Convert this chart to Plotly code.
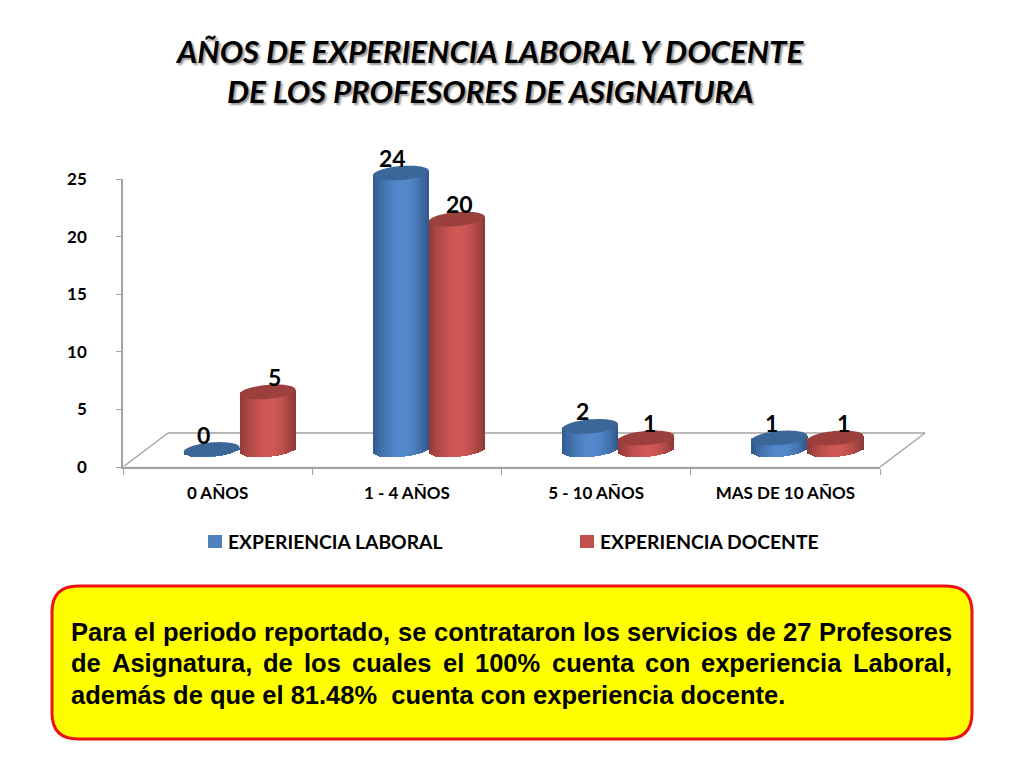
import numpy as np
import plotly.graph_objects as go

W, H = 1024, 768

# datos
categories = ["0 AÑOS", "1 - 4 AÑOS", "5 - 10 AÑOS", "MAS DE 10 AÑOS"]
laboral = [0, 24, 2, 1]
docente = [5, 20, 1, 1]
tick_values = [0, 5, 10, 15, 20, 25]

title_lines = ["AÑOS DE EXPERIENCIA LABORAL Y DOCENTE", "DE LOS PROFESORES DE ASIGNATURA"]
note_line1 = ["Para", "el", "periodo", "reportado,", "se", "contrataron", "los", "servicios", "de", "27", "Profesores"]
note_line2 = ["de", "Asignatura,", "de", "los", "cuales", "el", "100%", "cuenta", "con", "experiencia", "Laboral,"]
note_line3 = "además de que el 81.48%&nbsp;&nbsp;cuenta con experiencia docente."

# posicion de cada palabra (texto justificado)
line1_x = [72, 134.9, 163.8, 264.9, 398.6, 434.6, 583.9, 628.3, 746.5, 783.9, 819.9]
line2_x = [72, 113, 264.4, 305.3, 353.3, 443.9, 476.3, 552.7, 646, 702.4, 853.9]

GREY = "#a3a3a3"
FONT = "Lato"


def px_x(v):
    return v / W


def px_y(v):
    return 1 - v / H


# ejes en pixeles
AX_L, AX_R, AX_T, AX_B = 123, 880, 179, 467
DX, DY = 22, 17.5  # desplazamiento de las barras (profundidad)
BACK_DX, BACK_DY = 45, 34
UX = (AX_R - AX_L) / len(categories)  # px por categoria
UY = (AX_B - AX_T) / 25  # px por unidad
BAR_W = 56 / UX
RX, RY, TILT = 28, 7, np.radians(5)
N = 26
Y2_LOW = -2

series = [
    ("EXPERIENCIA LABORAL", laboral, -BAR_W, "#4f81bd", "#2f5688", "#5389cc", "#3b6698", [-8, -8, -8, -8], 208),
    ("EXPERIENCIA DOCENTE", docente, 0, "#c0504d", "#8a3836", "#d05855", "#9c403e", [7, 3, 3, 8], 580),
]


def mix(a, b, t):
    ca = [int(a[i:i + 2], 16) for i in (1, 3, 5)]
    cb = [int(b[i:i + 2], 16) for i in (1, 3, 5)]
    return "rgb(%d,%d,%d)" % tuple(ca[i] + (cb[i] - ca[i]) * t for i in range(3))


fig = go.Figure()
idx = list(range(len(categories)))

# trazo invisible para el eje de categorias
fig.add_trace(go.Bar(x=categories, y=[0] * len(categories), showlegend=False, hoverinfo="skip",
                     marker_color="rgba(0,0,0,0)", xaxis="x", yaxis="y"))

shapes = []
annotations = []
axis_font = dict(family=FONT, size=17, color="black", weight=700)
legend_font = dict(family=FONT, size=19.3, color="black", weight=700)

for name, vals, off, col, edge, light, cap, lab_dx, leg_x in series:
    fig.add_trace(go.Bar(x=idx, y=vals, width=BAR_W, offset=off, name=name, marker_color=col,
                         marker_line_width=0, xaxis="x2", yaxis="y2", showlegend=False))
    # bandas verticales para sombrear el cilindro
    for k in range(N):
        u = (k + 0.5) / N * 2 - 1
        if u < 0:
            c = mix(edge, light, min(1, (u + 1) / 0.85) ** 0.7)
        else:
            c = mix(light, edge, max(0, (u - 0.15) / 0.85) ** 1.6)
        drop = RY * np.sqrt(max(0, 1 - u * u)) - u * RX * np.tan(TILT)
        lift = u * RX * np.tan(TILT)
        base = [-drop / UY] * len(vals)
        tops = [v + lift / UY + drop / UY for v in vals]
        fig.add_trace(go.Bar(x=idx, y=tops, base=base, width=BAR_W / N * 1.08, offset=off + BAR_W * k / N,
                             marker_color=c, marker_line_width=0, showlegend=False, hoverinfo="skip",
                             xaxis="x2", yaxis="y2"))
    # tapas elipticas
    t = np.linspace(0, 2 * np.pi, 60)
    for i, v in zip(idx, vals):
        cx = i + off + BAR_W / 2
        xs = cx + (RX * np.cos(t) * np.cos(TILT) + RY * np.sin(t) * np.sin(TILT)) / UX
        ys = v + (RX * np.cos(t) * np.sin(TILT) - RY * np.sin(t) * np.cos(TILT)) / UY
        path = "M" + " L".join("%.4f,%.4f" % p for p in zip(xs, ys)) + " Z"
        shapes.append(dict(type="path", xref="x2", yref="y2", path=path, fillcolor=cap, line_width=0))
        annotations.append(dict(xref="x2", yref="y2", x=cx, y=v, text=f"<b>{v}</b>", showarrow=False,
                                xshift=lab_dx[i], yshift=15, font=dict(family=FONT, size=23, color="black")))
    # leyenda
    shapes.append(dict(type="rect", xref="paper", yref="paper", x0=px_x(leg_x), x1=px_x(leg_x + 14),
                       y0=px_y(548), y1=px_y(535), fillcolor=col, line_width=0))
    annotations.append(dict(xref="paper", yref="paper", x=px_x(leg_x + 18), y=px_y(541), text=name, showarrow=False,
                            xanchor="left", yanchor="middle", font=legend_font))

# suelo 3D
floor_lines = [
    (AX_L, AX_B, AX_L + BACK_DX, AX_B - BACK_DY),
    (AX_L + BACK_DX, AX_B - BACK_DY, AX_R + BACK_DX, AX_B - BACK_DY),
    (AX_R + BACK_DX, AX_B - BACK_DY, AX_R, AX_B),
]
for x0, y0, x1, y1 in floor_lines:
    shapes.insert(0, dict(type="line", xref="paper", yref="paper", x0=px_x(x0), y0=px_y(y0), x1=px_x(x1),
                          y1=px_y(y1), line=dict(color=GREY, width=1.5), layer="below"))

# caja amarilla
bx0, by0, bx1, by1, r = 52, 586, 972, 739, 26
x0, x1 = px_x(bx0), px_x(bx1)
y0, y1 = px_y(by0), px_y(by1)
rx, ry = r / W, r / H
box = (f"M{x0 + rx},{y0} L{x1 - rx},{y0} Q{x1},{y0} {x1},{y0 - ry} L{x1},{y1 + ry} Q{x1},{y1} {x1 - rx},{y1} "
       f"L{x0 + rx},{y1} Q{x0},{y1} {x0},{y1 + ry} L{x0},{y0 - ry} Q{x0},{y0} {x0 + rx},{y0} Z")
shapes.append(dict(type="path", xref="paper", yref="paper", path=box, fillcolor="#ffff00",
                   line=dict(color="#ee1111", width=3)))

# titulo
for txt, y in zip(title_lines, [51, 91]):
    annotations.append(dict(xref="paper", yref="paper", x=px_x(489.5), y=px_y(y), text=f"<b><i>{txt}</i></b>",
                            showarrow=False, xanchor="center", yanchor="middle",
                            font=dict(family=FONT, size=31.2, color="black", shadow="2px 2px 2px #999999")))

# nota
note_font = dict(family="Liberation Sans", size=25.5, color="black")
for words, xs, y in [(note_line1, line1_x, 632), (note_line2, line2_x, 663)]:
    for word, x in zip(words, xs):
        annotations.append(dict(xref="paper", yref="paper", x=px_x(x), y=px_y(y), text=f"<b>{word}</b>",
                                showarrow=False, xanchor="left", yanchor="middle", xshift=-3, font=note_font))
annotations.append(dict(xref="paper", yref="paper", x=px_x(72), y=px_y(695), text=f"<b>{note_line3}</b>",
                        showarrow=False, xanchor="left", yanchor="middle", xshift=-3, font=note_font))

fig.update_layout(
    width=W, height=H, margin=dict(l=0, r=0, t=0, b=0), autosize=False,
    paper_bgcolor="white", plot_bgcolor="rgba(0,0,0,0)",
    barmode="overlay", bargap=0, showlegend=False,
    shapes=shapes, annotations=annotations,
    xaxis=dict(domain=[px_x(AX_L), px_x(AX_R)], type="category", tickson="boundaries", ticks="outside", ticklen=6,
               tickcolor=GREY, linecolor=GREY, linewidth=1.5, showgrid=False, tickfont=axis_font, zeroline=False,
               anchor="y", range=[-0.5, 3.5], automargin=False, ticklabelstandoff=10),
    yaxis=dict(domain=[px_y(AX_B), px_y(AX_T)], range=[0, 25], tickvals=tick_values, ticks="outside", ticklen=5,
               tickcolor=GREY, linecolor=GREY, linewidth=1.5, showgrid=False, tickfont=axis_font, zeroline=False,
               anchor="x", fixedrange=True, automargin=False, ticklabelstandoff=26),
    xaxis2=dict(domain=[px_x(AX_L + DX), px_x(AX_R + DX)], range=[-0.5, 3.5], visible=False, anchor="y2",
                automargin=False),
    yaxis2=dict(domain=[px_y(AX_B - DY - Y2_LOW * UY), px_y(AX_T - DY)], range=[Y2_LOW, 25], visible=False,
                anchor="x2", automargin=False),
)

fig.write_html("out.html", post_script="document.body.style.margin='0';",
               config=dict(displayModeBar=False))
